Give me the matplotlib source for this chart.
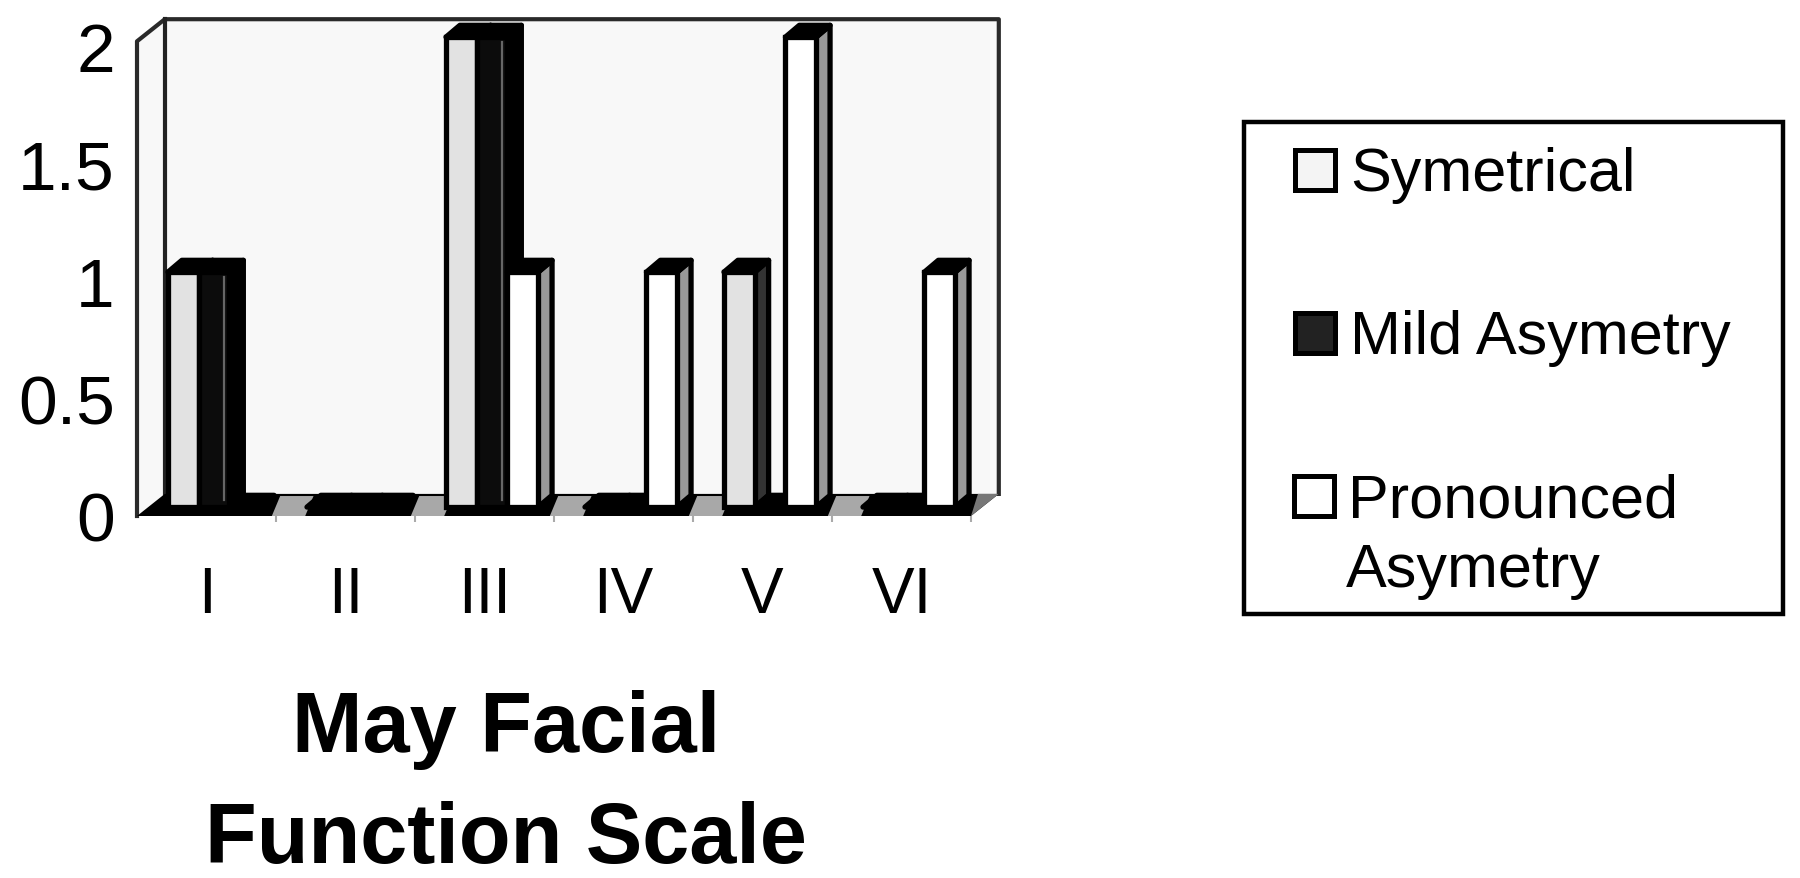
import numpy as np
from matplotlib import pyplot as plt
from matplotlib.patches import Rectangle

categories = ['I', 'II', 'III', 'IV', 'V', 'VI']
symetrical = [1, 0, 2, 0, 1, 0]
mild_asymetry = [1, 0, 2, 0, 0, 0]
pronounced_asymetry = [0, 0, 1, 1, 2, 1]
y_ticks = [0, 0.5, 1, 1.5, 2]
y_tick_labels = ['0', '0.5', '1', '1.5', '2']

FIG_W, FIG_H = 1800, 879
FONT = 'Liberation Sans'

# pseudo 3d box, in data units
WALL_DX, WALL_DY = 0.2, 0.094
WALL_TOP = 2.02
BAR_W = 0.221
GAP = 0.158
FRONT_DX, FRONT_DY = 0.065, 0.038
BAR_DX, BAR_DY = 0.1, 0.05
LW = 3.8


def fig_x(px):
    return px / FIG_W


def fig_y(px):
    return 1 - px / FIG_H


def draw_box(ax):
    n = len(categories)
    # left wall and back wall
    ax.fill([0, WALL_DX, WALL_DX, 0],
            [0, WALL_DY, WALL_TOP + WALL_DY, WALL_TOP],
            facecolor='#f8f8f8', edgecolor='none', zorder=1, clip_on=False)
    ax.fill([WALL_DX, n + WALL_DX, n + WALL_DX, WALL_DX],
            [WALL_DY, WALL_DY, WALL_TOP + WALL_DY, WALL_TOP + WALL_DY],
            facecolor='#f8f8f8', edgecolor='none', zorder=1, clip_on=False)
    ax.plot([0, 0, WALL_DX, n + WALL_DX, n + WALL_DX],
            [0, WALL_TOP, WALL_TOP + WALL_DY, WALL_TOP + WALL_DY, WALL_DY],
            color='#2a2a2a', lw=3, zorder=2, clip_on=False)
    ax.plot([WALL_DX, WALL_DX], [WALL_DY, WALL_TOP + WALL_DY],
            color='#222222', lw=3, zorder=2, clip_on=False)

    # floor, dark with grey patches between the groups
    ax.fill([0, WALL_DX, n + WALL_DX, n],
            [0, WALL_DY, WALL_DY, 0],
            facecolor='black', edgecolor='none', zorder=2, clip_on=False)
    for i in range(1, n):
        ax.fill([i - 0.03, i + 0.03, i + 0.27, i + 0.21],
                [0, 0.085, 0.085, 0],
                facecolor='#a8a8a8', edgecolor='none', zorder=2, clip_on=False)
    ax.fill([n, n + 0.05, n + WALL_DX],
            [0, WALL_DY, WALL_DY],
            facecolor='#777777', edgecolor='none', zorder=2, clip_on=False)


def draw_series(ax, values, slot, front, side, strip=None):
    z = 3 + slot
    for i, v in enumerate(values):
        x0 = i + GAP + FRONT_DX + slot * BAR_W
        x1 = x0 + BAR_W
        y0 = FRONT_DY
        y1 = FRONT_DY + v
        # side face, then top, then the front on top of both
        ax.fill([x1, x1 + BAR_DX, x1 + BAR_DX, x1],
                [y0, y0 + BAR_DY, y1 + BAR_DY, y1],
                facecolor=side, edgecolor='black', lw=LW, joinstyle='round',
                zorder=z, clip_on=False)
        ax.fill([x0, x1, x1 + BAR_DX, x0 + BAR_DX],
                [y1, y1, y1 + BAR_DY, y1 + BAR_DY],
                facecolor='black', edgecolor='black', lw=LW, joinstyle='round',
                zorder=z, clip_on=False)
        if v > 0:
            ax.bar(x0, v, width=BAR_W, bottom=y0, align='edge', color=front,
                   edgecolor='black', lw=LW, zorder=z, clip_on=False)
            if strip:
                ax.plot([x1 - 0.04, x1 - 0.04], [y0 + 0.03, y1 - 0.02],
                        color=strip, lw=1.6, zorder=z, clip_on=False)


fig = plt.figure(figsize=(FIG_W / 100, FIG_H / 100), dpi=100, facecolor='white')

# front floor corner at (137, 517), 139 px per category, 235 px per unit
ax = fig.add_axes([fig_x(137), fig_y(517), 139 * 6.2 / FIG_W,
                   235 * (WALL_TOP + WALL_DY) / FIG_H])
ax.set_xlim(0, len(categories) + WALL_DX)
ax.set_ylim(0, WALL_TOP + WALL_DY)
ax.patch.set_visible(False)
for s in ax.spines.values():
    s.set_visible(False)

draw_box(ax)
draw_series(ax, symetrical, 0, '#e2e2e2', '#333333')
draw_series(ax, mild_asymetry, 1, '#0c0c0c', 'black', strip='#666666')
draw_series(ax, pronounced_asymetry, 2, 'white', '#999999')

ax.set_yticks(y_ticks)
ax.set_yticklabels(y_tick_labels, fontsize=50, fontfamily=FONT, color='black')
ax.tick_params(axis='y', length=0, pad=16)
ax.set_xticks(np.arange(len(categories)) + 0.5)
ax.set_xticklabels(categories, fontsize=46, fontfamily=FONT, color='black')
ax.tick_params(axis='x', length=0, pad=35)
ax.set_xticks(np.arange(1, len(categories) + 1), minor=True)
ax.tick_params(axis='x', which='minor', length=4, width=1.5, color='#aaaaaa')

# axis title as two separate lines
fig.text(fig_x(506), fig_y(752), 'May Facial', fontsize=61, fontweight='bold',
         fontfamily=FONT, ha='center', va='baseline', color='black')
fig.text(fig_x(506), fig_y(863), 'Function Scale', fontsize=61, fontweight='bold',
         fontfamily=FONT, ha='center', va='baseline', color='black')

# legend drawn by hand, the spacing is uneven in the original
fig.add_artist(Rectangle((fig_x(1244), fig_y(615)), 539 / FIG_W, 492 / FIG_H,
                         transform=fig.transFigure, facecolor='white',
                         edgecolor='black', lw=3.2))
legend_rows = [
    ('Symetrical', '#f4f4f4', 1295, 171, 1350),
    ('Mild Asymetry', '#222222', 1295, 334, 1350),
    ('Pronounced', 'white', 1294, 497, 1348),
]
for label, color, bx, by, tx in legend_rows:
    fig.add_artist(Rectangle((fig_x(bx), fig_y(by + 20)), 40 / FIG_W, 40 / FIG_H,
                             transform=fig.transFigure, facecolor=color,
                             edgecolor='black', lw=3.6))
    fig.text(fig_x(tx), fig_y(by + 20), label, fontsize=44, fontfamily=FONT,
             ha='left', va='baseline', color='black')
fig.text(fig_x(1346), fig_y(587), 'Asymetry', fontsize=44, fontfamily=FONT,
         ha='left', va='baseline', color='black')

fig.savefig('out.png', dpi=100, facecolor='white')
